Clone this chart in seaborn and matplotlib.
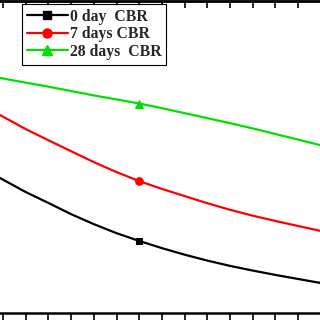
import matplotlib
matplotlib.use("Agg")
import matplotlib.pyplot as plt
from matplotlib.lines import Line2D
import seaborn as sns
import pandas as pd

sns.set_style("white")
plt.rcParams['font.family'] = ['Liberation Serif', 'DejaVu Serif']

x = [-0.13, 1, 2, 3, 4, 5, 6, 7, 8, 9, 10, 11, 12, 13, 14]
cbr_0 = [43.3, 38.8, 35.3, 31.7, 28.5, 25.6, 23.1, 20.8, 18.7, 16.8, 15.1, 13.6, 12.2, 10.9, 9.6]
cbr_7 = [63.5, 59.0, 55.4, 51.9, 48.4, 45.2, 42.3, 39.8, 37.5, 35.2, 33.1, 31.2, 29.5, 27.9, 26.3]
cbr_28 = [75.4, 73.9, 72.6, 71.2, 69.8, 68.5, 67.2, 65.7, 64.1, 62.5, 60.9, 59.2, 57.4, 55.6, 53.8]
labels = ["0 day  CBR", "7 days CBR", "28 days  CBR"]
colors = ["black", "red", "#00e000"]
markers = ["s", "o", "^"]
msizes = [4.5, 5.5, 5.5]

fig = plt.figure(figsize=(3.2, 3.2), dpi=100)
ax = fig.add_axes([0.0, 0.022, 1.0, 0.974])

handles = []
for ys, lab, c, m, ms in zip([cbr_0, cbr_7, cbr_28], labels, colors, markers, msizes):
    df = pd.DataFrame({"x": x, "y": ys})
    sns.lineplot(data=df, x="x", y="y", ax=ax, color=c, marker=m,
                 markevery=[6], markersize=ms, markeredgecolor=c,
                 linewidth=1.6, legend=False)
    handles.append(Line2D([], [], color=c, marker=m, markersize=ms + 1,
                          markeredgecolor=c, linewidth=1.6, label=lab))

ax.set_xlim(-0.13, 13.96)
ax.set_ylim(0, 100)
ax.set_xticks(range(0, 14))
ax.set_xticklabels([])
ax.set_yticks([])
ax.set_xlabel("")
ax.set_ylabel("")
ax.tick_params(axis='x', which='both', bottom=True, top=False, direction='out',
               length=6, width=1.2, color='black')
sec = ax.secondary_xaxis('top')
sec.set_xticks(range(0, 14))
sec.set_xticklabels([])
sec.tick_params(axis='x', direction='in', length=5, width=1.2, color='black')
sec.spines['top'].set_linewidth(1.8)
for s in ax.spines.values():
    s.set_color('black')
    s.set_linewidth(1.8)
ax.spines['left'].set_visible(False)
ax.spines['right'].set_visible(False)

leg = ax.legend(handles=handles, loc='upper left', bbox_to_anchor=(22/320, 1 - 4/320),
                bbox_transform=fig.transFigure, borderaxespad=0,
                fancybox=False, edgecolor='black', framealpha=1,
                prop={'weight': 'bold', 'size': 11.3}, handlelength=2.6,
                handletextpad=0.15, labelspacing=0.1, borderpad=0.3)
leg.get_frame().set_linewidth(0.8)

fig.savefig("out.png", dpi=100)
